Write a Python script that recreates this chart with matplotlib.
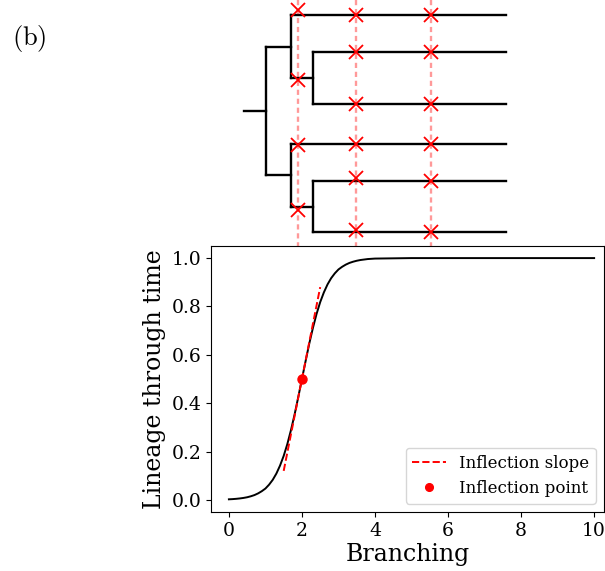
import numpy as np
import matplotlib
matplotlib.use('Agg')
import matplotlib.pyplot as plt

plt.rcParams['font.family'] = 'DejaVu Serif'
plt.rcParams['mathtext.fontset'] = 'cm'

# ---- lineage-through-time curve ----
branching = [0.0, 0.1, 0.2, 0.3, 0.4, 0.5, 0.6, 0.7, 0.8, 0.9,
             1.0, 1.1, 1.2, 1.3, 1.4, 1.5, 1.6, 1.7, 1.8, 1.9,
             2.0, 2.1, 2.2, 2.3, 2.4, 2.5, 2.6, 2.7, 2.8, 2.9,
             3.0, 3.1, 3.2, 3.3, 3.4, 3.5, 3.6, 3.7, 3.8, 3.9,
             4.0, 4.5, 5, 6, 7, 8, 9, 10]
lineage = [0.0025, 0.0033, 0.0045, 0.0061, 0.0082, 0.011, 0.015, 0.020, 0.027, 0.036,
           0.047, 0.063, 0.083, 0.109, 0.142, 0.182, 0.231, 0.289, 0.354, 0.426,
           0.500, 0.574, 0.646, 0.711, 0.769, 0.818, 0.858, 0.891, 0.917, 0.937,
           0.953, 0.964, 0.973, 0.980, 0.985, 0.989, 0.992, 0.994, 0.996, 0.997,
           0.998, 0.999, 1.0, 1.0, 1.0, 1.0, 1.0, 1.0]
slope_x = [1.5, 2.5]
slope_y = [0.12, 0.88]
infl_x, infl_y = 2.0, 0.5
xticks = [0, 2, 4, 6, 8, 10]
yticks = [0.0, 0.2, 0.4, 0.6, 0.8, 1.0]

# ---- tree (schematic units, y grows downward) ----
leaf_y = [15, 52, 104, 144, 181, 232]
leaf_end = 506
root_x, clade_x, inner_x, stub_x = 266, 291, 313, 244
cut_x = [298, 356, 431]
cut_marks = [[10, 80, 145, 210],
             [15, 52, 104, 144, 178, 230],
             [15, 52, 104, 144, 181, 232]]

fig = plt.figure(figsize=(6.05, 5.71), dpi=100)

# tree drawn in its own axes covering the figure
axt = fig.add_axes([0, 0, 1, 1])
axt.set_xlim(0, 605)
axt.set_ylim(571, 0)
axt.axis('off')

def seg(x0, x1, y0, y1):
    axt.plot([x0, x1], [y0, y1], color='black', lw=1.7, solid_capstyle='projecting')

for top in (0, 3):
    a, b, c = leaf_y[top], leaf_y[top + 1], leaf_y[top + 2]
    inner_y = (b + c) / 2
    seg(inner_x, inner_x, b, c)
    seg(inner_x, leaf_end, b, b)
    seg(inner_x, leaf_end, c, c)
    seg(clade_x, inner_x, inner_y, inner_y)
    seg(clade_x, clade_x, a, inner_y)
    seg(clade_x, leaf_end, a, a)
    clade_y = (a + inner_y) / 2
    seg(root_x, clade_x, clade_y, clade_y)
    if top == 0:
        y_up = clade_y
    else:
        y_lo = clade_y
seg(root_x, root_x, y_up, y_lo)
root_y = (y_up + y_lo) / 2
seg(stub_x, root_x, root_y, root_y)

for cx, marks in zip(cut_x, cut_marks):
    axt.plot([cx, cx], [0, 246], color='red', alpha=0.4, lw=1.7,
             ls=(0, (2.2, 1.6)))
    axt.plot([cx] * len(marks), marks, 'x', color='red', ms=9.5, mew=1.3)

# main plot
ax = fig.add_axes([211 / 605, 1 - 512 / 571, (604 - 211) / 605, (512 - 246) / 571])
ax.plot(branching, lineage, color='black', lw=1.4)
ax.plot(slope_x, slope_y, '--', color='red', lw=1.4, label='Inflection slope')
ax.plot([infl_x], [infl_y], 'o', color='red', ms=6.5, label='Inflection point')
ax.set_xlim(-0.49, 10.27)
ax.set_ylim(-0.05, 1.05)
ax.set_xticks(xticks)
ax.set_yticks(yticks)
ax.tick_params(labelsize=13.5)
ax.set_xlabel('Branching', fontsize=17, labelpad=2)
ax.set_ylabel('Lineage through time', fontsize=17, labelpad=4)
ax.legend(loc='lower right', fontsize=12, markerscale=0.85)

fig.text(0.02, 0.933, r'$\mathrm{(b)}$', fontsize=19, ha='left', va='center')

fig.savefig('out.png', dpi=100)
